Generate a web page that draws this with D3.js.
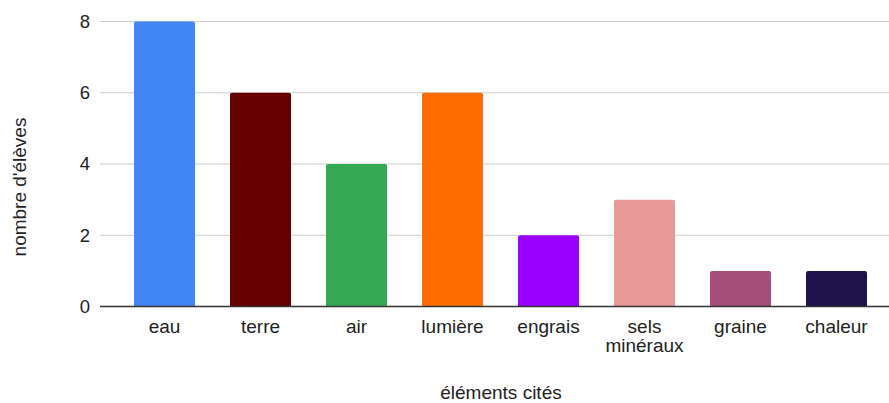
<!DOCTYPE html>
<html>
<head>
<meta charset="utf-8">
<script src="https://cdn.jsdelivr.net/npm/d3@7"></script>
<style>
  html, body { margin: 0; padding: 0; background: #fff; }
  svg { display: block; font-family: "Liberation Sans", Arial, sans-serif; }
</style>
</head>
<body>
<svg id="chart" width="889" height="403"></svg>
<script>
const categories = ["eau", "terre", "air", "lumière", "engrais", "sels minéraux", "graine", "chaleur"];
const values = [8, 6, 4, 6, 2, 3, 1, 1];
const colors = ["#4285f4", "#660000", "#34a853", "#ff6d01", "#9900ff", "#ea9999", "#a64d79", "#20124d"];
const yTicks = [0, 2, 4, 6, 8];
const xTitle = "éléments cités";
const yTitle = "nombre d'élèves";

const svg = d3.select("#chart");
const plotLeft = 100, plotRight = 889;
const y = d3.scaleLinear().domain([0, 8]).range([306.5, 21.5]);
const x = d3.scaleBand().domain(categories)
  .range([116.5, 884.5])
  .paddingInner(35 / 96)
  .paddingOuter(35 / 192);

// gridlines
svg.append("g").selectAll("line")
  .data(yTicks.filter(d => d !== 0))
  .join("line")
  .attr("x1", plotLeft).attr("x2", plotRight)
  .attr("y1", d => y(d)).attr("y2", d => y(d))
  .attr("stroke", "#cccccc").attr("stroke-width", 1);

// y tick labels
svg.append("g").selectAll("text")
  .data(yTicks)
  .join("text")
  .attr("x", 90).attr("y", d => y(d))
  .attr("dy", "0.35em")
  .attr("text-anchor", "end")
  .attr("font-size", 18.5)
  .attr("fill", "#222")
  .text(d => d);

// bars with slightly rounded top corners
const r = 2;
function barPath(x0, w, yTop, yBot) {
  return `M${x0},${yBot}V${yTop + r}Q${x0},${yTop} ${x0 + r},${yTop}H${x0 + w - r}Q${x0 + w},${yTop} ${x0 + w},${yTop + r}V${yBot}Z`;
}
svg.append("g").selectAll("path")
  .data(categories)
  .join("path")
  .attr("d", (c, i) => barPath(x(c), x.bandwidth(), y(values[i]), y(0)))
  .attr("fill", (c, i) => colors[i]);

// baseline
svg.append("line")
  .attr("x1", plotLeft).attr("x2", plotRight)
  .attr("y1", y(0)).attr("y2", y(0))
  .attr("stroke", "#333").attr("stroke-width", 1.3);

// category labels
const lab = svg.append("g").selectAll("text")
  .data(categories)
  .join("text")
  .attr("x", c => x(c) + x.bandwidth() / 2)
  .attr("y", 333)
  .attr("text-anchor", "middle")
  .attr("font-size", 19)
  .attr("fill", "#222");
lab.each(function(c) {
  const words = c.split(" ");
  const t = d3.select(this);
  words.forEach((w, k) => {
    t.append("tspan")
      .attr("x", x(c) + x.bandwidth() / 2)
      .attr("dy", k === 0 ? 0 : 19)
      .text(w);
  });
});

// axis titles
svg.append("text")
  .attr("x", 501).attr("y", 399)
  .attr("text-anchor", "middle")
  .attr("font-size", 19)
  .attr("fill", "#222")
  .text(xTitle);

svg.append("text")
  .attr("transform", "translate(26,187) rotate(-90)")
  .attr("text-anchor", "middle")
  .attr("font-size", 19)
  .attr("fill", "#222")
  .text(yTitle);
</script>
</body>
</html>
